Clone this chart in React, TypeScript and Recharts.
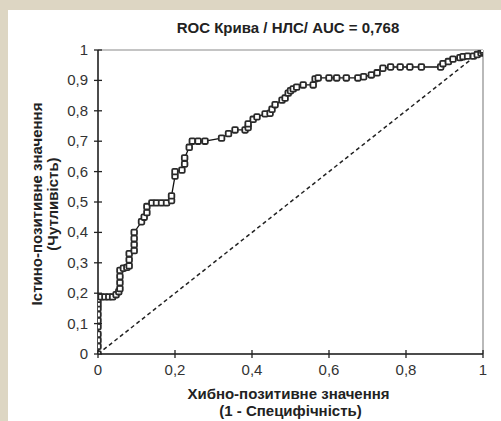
import React from 'react';
import { ComposedChart, Line, XAxis, YAxis, ReferenceLine, Label } from 'recharts';

// ROC curve points (false positive rate / true positive rate)
const rocFpr = [
  0, 0, 0, 0, 0, 0, 0, 0, 0, 0,
  0.008, 0.018, 0.028, 0.038, 0.047, 0.054,
  0.057, 0.057, 0.057, 0.057, 0.066, 0.075,
  0.081, 0.081, 0.081, 0.094, 0.094, 0.094, 0.094,
  0.113, 0.12, 0.127, 0.127, 0.14, 0.152, 0.165, 0.178, 0.191, 0.191,
  0.2, 0.2, 0.218, 0.225, 0.225, 0.237, 0.245, 0.26, 0.278,
  0.321, 0.339, 0.356, 0.382, 0.39, 0.39,
  0.403, 0.413, 0.434, 0.447, 0.452, 0.46,
  0.478, 0.486, 0.494, 0.5, 0.507, 0.516, 0.533, 0.559,
  0.564, 0.572, 0.6, 0.62, 0.645, 0.675, 0.69, 0.71, 0.725,
  0.74, 0.76, 0.785, 0.81, 0.84, 0.89,
  0.896, 0.91, 0.922, 0.94, 0.948, 0.96, 0.975, 0.985, 0.995, 1, 1,
];
const rocTpr = [
  0, 0.025, 0.045, 0.065, 0.09, 0.11, 0.13, 0.15, 0.165, 0.18,
  0.188, 0.188, 0.188, 0.188, 0.195, 0.205,
  0.215, 0.235, 0.255, 0.275, 0.282, 0.285,
  0.29, 0.31, 0.33, 0.34, 0.36, 0.38, 0.4,
  0.435, 0.45, 0.465, 0.485, 0.497, 0.497, 0.497, 0.497, 0.505, 0.52,
  0.585, 0.6, 0.605, 0.625, 0.645, 0.68, 0.7, 0.7, 0.7,
  0.71, 0.725, 0.737, 0.737, 0.745, 0.757,
  0.772, 0.78, 0.79, 0.792, 0.805, 0.82,
  0.835, 0.842, 0.858, 0.866, 0.872, 0.878, 0.885, 0.885,
  0.905, 0.908, 0.908, 0.908, 0.908, 0.908, 0.912, 0.918, 0.925,
  0.94, 0.944, 0.944, 0.944, 0.944, 0.944,
  0.955, 0.962, 0.97, 0.975, 0.978, 0.98, 0.98, 0.985, 0.99, 0.995, 1,
];
const diagFpr = [0, 1];
const diagTpr = [0, 1];

const xTicks = [0, 0.2, 0.4, 0.6, 0.8, 1];
const yTicks = [0, 0.1, 0.2, 0.3, 0.4, 0.5, 0.6, 0.7, 0.8, 0.9, 1];

const rocData = rocFpr.map((x, i) => ({ x, y: rocTpr[i] }));
const diagData = diagFpr.map((x, i) => ({ x, y: diagTpr[i] }));

const FONT = '"Liberation Sans", Arial, sans-serif';
const fmt = (v: number) => String(v).replace('.', ',');

const XTick = ({ x, y, payload }: any) => (
  <g>
    <line x1={x} x2={x} y1={y - 4} y2={y + 4} stroke="#222" strokeWidth={1.3} />
    <text x={x} y={y + 21} textAnchor="middle" fontSize={15} fontFamily={FONT} fill="#333">
      {fmt(payload.value)}
    </text>
  </g>
);

const YTick = ({ x, y, payload }: any) => (
  <g>
    <line x1={x - 4} x2={x + 4} y1={y} y2={y} stroke="#222" strokeWidth={1.3} />
    <text x={x - 10} y={y + 5} textAnchor="end" fontSize={15} fontFamily={FONT} fill="#333">
      {fmt(payload.value)}
    </text>
  </g>
);

const SquareDot = (props: any) => {
  const { cx, cy, index } = props;
  if (cx == null || cy == null) return <g key={index} />;
  return (
    <rect key={index} x={cx - 2.8} y={cy - 2.8} width={5.6} height={5.6} rx={1.2}
      fill="#fff" stroke="#2a2a2a" strokeWidth={1.8} />
  );
};

const renderXLabel = (props: any) => {
  const vb = props.viewBox || { x: 98, y: 354, width: 385 };
  const cx = vb.x + vb.width / 2;
  return (
    <g fontFamily={FONT} fontWeight="bold" fontSize={15} fill="#222" textAnchor="middle">
      <text x={cx - 2} y={vb.y + 45}>Хибно-позитивне значення</text>
      <text x={cx} y={vb.y + 62}>(1 - Специфічність)</text>
    </g>
  );
};

const renderYLabel = (props: any) => {
  const vb = props.viewBox || { x: 38, y: 50, height: 304 };
  const cy = vb.y + vb.height / 2 + 2;
  const x1 = vb.x + 4;
  const x2 = vb.x + 20;
  return (
    <g fontFamily={FONT} fontWeight="bold" fontSize={15} fill="#222" textAnchor="middle">
      <text x={x1} y={cy} transform={`rotate(-90, ${x1}, ${cy})`}>Істино-позитивне значення</text>
      <text x={x2} y={cy} transform={`rotate(-90, ${x2}, ${cy})`}>(Чутливість)</text>
    </g>
  );
};

export default function App() {
  return (
    <div style={{ position: 'relative', width: 501, height: 421, background: '#ddd6c3', overflow: 'hidden' }}>
      <style>{`body{margin:0;}`}</style>
      <div style={{ position: 'absolute', left: 8, top: 10, right: 0, bottom: 0, background: '#fff' }} />
      <div
        style={{
          position: 'absolute', left: 96, top: 19, width: 384, textAlign: 'center',
          fontFamily: FONT, fontWeight: 'bold', fontSize: 15, color: '#222',
        }}
      >
        ROC Крива / НЛС/ AUC = 0,768
      </div>
      <div style={{ position: 'absolute', left: 0, top: 0 }}>
        <ComposedChart width={501} height={421} margin={{ top: 50, right: 18, bottom: 37, left: 38 }}>
          <XAxis
            type="number" dataKey="x" domain={[0, 1]} ticks={xTicks} allowDataOverflow
            height={30} tickSize={0} tickMargin={0} tickLine={false} tick={<XTick />}
            axisLine={{ stroke: '#111', strokeWidth: 1.5 }}
          >
            <Label content={renderXLabel} />
          </XAxis>
          <YAxis
            type="number" dataKey="y" domain={[0, 1]} ticks={yTicks} allowDataOverflow
            width={60} tickSize={0} tickMargin={0} tickLine={false} tick={<YTick />}
            axisLine={{ stroke: '#111', strokeWidth: 1.5 }}
          >
            <Label content={renderYLabel} />
          </YAxis>
          <ReferenceLine y={1} stroke="#8a8a8a" strokeWidth={1.2} />
          <ReferenceLine x={1} stroke="#8a8a8a" strokeWidth={1.2} />
          <Line data={diagData} dataKey="y" type="linear" stroke="#222" strokeWidth={1.5}
            strokeDasharray="4 3" dot={false} isAnimationActive={false} />
          <Line data={rocData} dataKey="y" type="linear" stroke="#111" strokeWidth={1.3}
            dot={SquareDot} activeDot={false} isAnimationActive={false} />
        </ComposedChart>
      </div>
    </div>
  );
}
